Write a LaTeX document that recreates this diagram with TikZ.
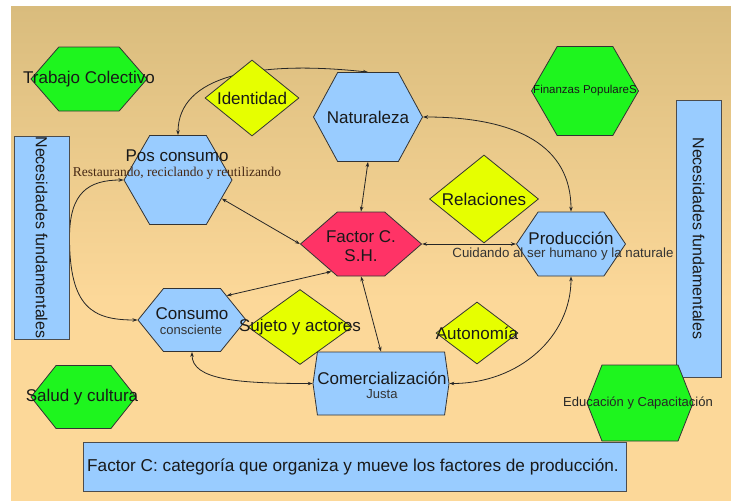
\documentclass[tikz,border=0pt]{standalone}
\usepackage{fontspec}
\setmainfont{Liberation Sans}
\newfontfamily\subserif{Liberation Serif}
\usetikzlibrary{shapes.geometric,shapes.symbols,arrows.meta}
\definecolor{azul}{RGB}{153,204,255}
\definecolor{verde}{RGB}{30,245,30}
\definecolor{amarillo}{RGB}{230,255,0}
\definecolor{rojo}{RGB}{255,51,102}
\definecolor{fondoarriba}{RGB}{217,188,125}
\definecolor{fondoabajo}{RGB}{252,216,153}
\definecolor{cafe}{RGB}{70,40,20}
\pgfdeclarelayer{fondo}
\pgfdeclarelayer{flechas}
\pgfsetlayers{fondo,flechas,main}
\tikzset{
  hexa/.style n args={3}{signal, signal to=east and west, draw=black!80, line width=0.8pt,
    inner sep=0pt, minimum width=#1, minimum height=#2, signal pointer angle=#3},
  rombo/.style 2 args={diamond, draw=black!80, line width=0.8pt, fill=amarillo,
    inner sep=0pt, minimum width=#1, minimum height=#2},
  caja/.style 2 args={rectangle, draw=black!70, line width=1pt, fill=azul,
    inner sep=0pt, minimum width=#1, minimum height=#2},
  txt/.style={font=\fontsize{17}{19}\selectfont, inner sep=0pt, text=black!90},
  sub/.style={font=\fontsize{13}{15}\selectfont, inner sep=0pt, text=black!80},
  flecha/.style={line width=0.8pt, draw=black!85},
  >={Stealth[length=5pt,width=3.5pt]}
}
\begin{document}
\begin{tikzpicture}[x=1pt,y=-1pt]
\useasboundingbox (0,0) rectangle (731,501);
\begin{pgfonlayer}{fondo}
  \shade[top color=fondoarriba, bottom color=fondoabajo] (11,6) rectangle (731,300);
  \fill[fondoabajo] (11,299.5) rectangle (731,501);
\end{pgfonlayer}

% cajas
\node[caja={55}{203}] (necizq) at (41.5,237.5) {};
\node[txt, rotate=-90, font=\fontsize{16}{19}\selectfont] (necizq-t) at (necizq) {Necesidades fundamentales};
\node[caja={45}{277}] (necder) at (698.5,238.5) {};
\node[txt, rotate=-90, font=\fontsize{16}{19}\selectfont] (necder-t) at (necder) {Necesidades fundamentales};
\node[caja={543}{49}] (nota) at (354.5,466.5) {};
\node[txt, font=\fontsize{17.2}{19}\selectfont] (nota-t) at (353,466.5) {Factor C: categoría que organiza y mueve los factores de producción.};

% hexagonos verdes
\node[hexa={116}{64}{98}, fill=verde] (trabajo) at (89,79) {};
\node[txt] (trabajo-t) at (89,79) {Trabajo Colectivo};
\node[hexa={107}{89}{120}, fill=verde] (finanzas) at (585,91) {};
\node[txt, font=\fontsize{11.5}{13}\selectfont] (finanzas-t) at (585,91) {Finanzas PopulareS};
\node[hexa={105}{63}{103}, fill=verde] (salud) at (83.5,397) {};
\node[txt] (salud-t) at (82,397) {Salud y cultura};
\node[hexa={106}{76}{137}, fill=verde] (edu) at (640,403) {};
\node[sub, text=black!85] (edu-t) at (638,403) {Educación y Capacitación};

% hexagonos azules
\node[hexa={108}{89}{120}, fill=azul] (pos) at (178,180) {};
\node[txt] (pos-t) at (177,155.5) {Pos consumo};
\node[sub, font=\subserif\fontsize{13.5}{15}\selectfont, text=cafe] (pos-s) at (177,173) {Restaurando, reciclando y reutilizando};
\node[hexa={109}{89}{123}, fill=azul] (nat) at (368,117) {};
\node[txt] (nat-t) at (368,117) {Naturaleza};
\node[hexa={109}{64}{112}, fill=azul] (prod) at (571,244) {};
\node[txt] (prod-t) at (571,238) {Producción};
\node[sub, font=\fontsize{13.3}{15}\selectfont] (prod-s) at (563,254) {Cuidando al ser humano y la naturale};
\node[hexa={108}{63}{102}, fill=azul] (con) at (192,320) {};
\node[txt] (con-t) at (192,314) {Consumo};
\node[sub] (con-s) at (191,330) {consciente};
\node[hexa={136}{63}{164}, fill=azul] (com) at (381,383.5) {};
\node[txt] (com-t) at (382,378) {Comercialización};
\node[sub] (com-s) at (382,394) {Justa};

% centro
\node[hexa={121}{64}{82}, fill=rojo] (fac) at (361,244) {};
\node[txt, align=center] (fac-t) at (361,246) {Factor C.\\S.H.};

% rombos
\node[rombo={94}{76}] (iden) at (252,98) {};
\node[txt] (iden-t) at (252,98) {Identidad};
\node[rombo={109}{88}] (rel) at (484,199) {};
\node[txt] (rel-t) at (484,199) {Relaciones};
\node[rombo={104}{75}] (suj) at (300,327) {};
\node[txt] (suj-t) at (300,327) {Sujeto y actores};
\node[rombo={82}{62}] (auto) at (477,333) {};
\node[txt] (auto-t) at (477,333) {Autonomía};

% conectores
\begin{pgfonlayer}{flechas}
\draw[flecha, <->] (pos.north) .. controls +(0,-60) and +(-110,-12) .. (nat.north);
\draw[flecha, <->] (nat.east) .. controls +(95,0) and +(0,-65) .. (prod.north);
\draw[flecha, <->] (nat.south) -- (fac.north);
\draw[flecha, <->] (pos.-23) -- (fac.west);
\draw[flecha, <->] (fac.east) -- (prod.west);
\draw[flecha, <->] (con.35) -- (fac.-137);
\draw[flecha, <->] (fac.south) -- (com.north);
\draw[flecha, <->] (con.south) .. controls +(0,28) and +(-75,0) .. (com.west);
\draw[flecha, <->] (prod.south) .. controls +(0,60) and +(70,0) .. (com.east);
\draw[flecha, ->] (necizq.east) .. controls +(0,-45) and +(-35,0) .. (pos.west);
\draw[flecha, ->] (necizq.east) .. controls +(0,70) and +(-45,0) .. (con.west);
\end{pgfonlayer}
\end{tikzpicture}
\end{document}
